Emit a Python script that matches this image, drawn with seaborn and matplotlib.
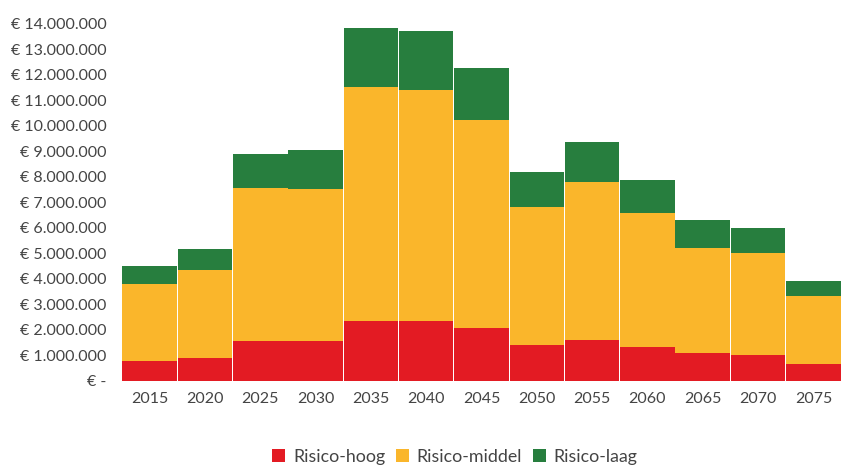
import matplotlib
matplotlib.use("Agg")
import matplotlib.pyplot as plt
import seaborn as sns
import numpy as np
import pandas as pd
from matplotlib.patches import Patch
from matplotlib.ticker import FuncFormatter

years = ["2015", "2020", "2025", "2030", "2035", "2040", "2045",
         "2050", "2055", "2060", "2065", "2070", "2075"]
risico_hoog = [0.77, 0.89, 1.56, 1.56, 2.35, 2.35, 2.07, 1.40, 1.60, 1.32, 1.08, 1.01, 0.65]
risico_middel = [3.00, 3.46, 5.99, 5.95, 9.18, 9.06, 8.16, 5.40, 6.19, 5.25, 4.14, 3.98, 2.68]
risico_laag = [0.74, 0.83, 1.34, 1.54, 2.33, 2.33, 2.05, 1.38, 1.57, 1.31, 1.08, 0.98, 0.59]
series_names = ["Risico-hoog", "Risico-middel", "Risico-laag"]
colors = ["#E31B23", "#FAB62B", "#277E3E"]

sns.set_theme(style="white")
plt.rcParams["font.family"] = ["Lato", "DejaVu Sans"]

df = pd.DataFrame({"year": years,
                   "Risico-hoog": np.array(risico_hoog) * 1e6,
                   "Risico-middel": np.array(risico_middel) * 1e6,
                   "Risico-laag": np.array(risico_laag) * 1e6})

fig = plt.figure(figsize=(8.42, 4.65), dpi=100)
ax = fig.add_axes([122 / 842, 1 - 380.5 / 465, 719 / 842, (380.5 - 24) / 465])

bottom = np.zeros(len(years))
for name, col in zip(series_names, colors):
    sns.barplot(x=df["year"], y=df[name], bottom=bottom, color=col, width=0.985,
                edgecolor="none", linewidth=0, ax=ax, saturation=1)
    bottom = bottom + df[name].values

ax.set_ylim(0, 14e6)
ax.set_xlim(-0.5, len(years) - 0.5)
ax.set_yticks(np.arange(0, 14e6 + 1, 1e6))


def fmt(v, pos):
    if v == 0:
        return "€ -"
    return "€ " + f"{int(round(v)):,}".replace(",", ".")


ax.yaxis.set_major_formatter(FuncFormatter(fmt))
ax.set_xlabel("")
ax.set_ylabel("")
ax.tick_params(axis="both", labelsize=11.5, colors="#444444", length=0, pad=8)
ax.tick_params(axis="y", pad=11)
for s in ax.spines.values():
    s.set_visible(False)
ax.grid(False)

handles = [Patch(facecolor=c, edgecolor="none", label=n) for n, c in zip(series_names, colors)]
fig.legend(handles=handles, loc="center", bbox_to_anchor=(455 / 842, 1 - 457 / 465),
           ncol=3, frameon=False, fontsize=12.8, handlelength=0.72, handleheight=0.72,
           handletextpad=0.45, columnspacing=0.6, labelcolor="#444444")

fig.savefig("out.png", dpi=100)
